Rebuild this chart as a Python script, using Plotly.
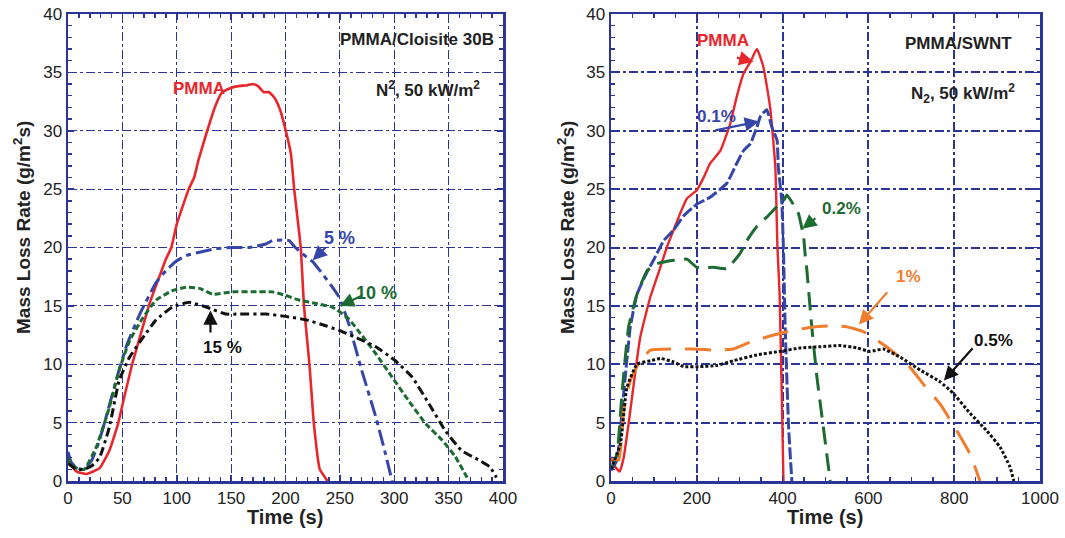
import plotly.graph_objects as go

# ---------------- Left panel: PMMA / Cloisite 30B ----------------
L_pmma_t = [0, 4, 8, 17, 29, 38, 46, 51, 59, 66, 75, 84, 90, 95, 100, 111, 116, 120, 128, 135, 141, 148, 155, 165, 170, 175, 180, 185, 190, 195, 200, 205, 208, 214, 217, 222, 226, 231.5, 235, 238.5]
L_pmma_y = [1.8, 1.2, 0.8, 0.6, 1.1, 2.6, 4.9, 6.9, 10, 12.3, 15.2, 17.5, 19, 20, 22, 25, 26, 27.5, 30, 32, 33.2, 33.6, 33.8, 33.9, 34, 33.8, 33.3, 33.3, 32.8, 31.8, 30.1, 28, 25, 20, 15, 10, 5, 1, 0.5, 0]

L_5_t = [0, 3, 8, 15, 22, 29, 41, 47, 53.5, 66, 81, 90, 99, 108.6, 121, 136, 151, 167, 182, 188, 203, 209, 223, 225, 249, 258, 270, 283, 292, 298]
L_5_y = [2.5, 1.6, 1.1, 1.0, 1.8, 3.5, 7.5, 9.5, 11.5, 14.3, 17, 18, 18.8, 19.3, 19.6, 19.9, 20, 20, 20.3, 20.6, 20.6, 20, 18.9, 18.8, 15.8, 13.5, 9.5, 5.5, 2.3, 0]

L_10_t = [0, 3, 8, 15, 26, 38, 47, 56.6, 69, 81, 96, 108.6, 121, 133, 151, 170, 188, 200, 212.5, 228, 243, 258, 270, 283, 298, 313, 329, 344, 356, 367]
L_10_y = [2.0, 1.5, 1.1, 1.0, 2.9, 6.3, 9.5, 12, 14, 15.5, 16.3, 16.6, 16.5, 16, 16.2, 16.2, 16.2, 15.9, 15.5, 15.2, 14.9, 13.9, 12.5, 10.9, 8.9, 6.9, 4.9, 3.5, 2.1, 0.3]

L_15_t = [0, 3, 8, 15, 22, 29, 38, 47, 56.6, 69, 81, 96, 111.6, 127, 145, 157, 182, 200, 219, 237, 252, 267, 283, 301, 316.5, 332, 347, 362, 377.7, 388, 394]
L_15_y = [1.5, 1.3, 1.0, 1.0, 1.3, 2.0, 4.6, 8.6, 10.6, 12.3, 13.8, 14.9, 15.3, 14.9, 14.3, 14.3, 14.3, 14.1, 13.8, 13.3, 12.8, 12.2, 11.5, 10.3, 8.9, 6.6, 4.3, 2.6, 1.8, 1.2, 0.3]

# ---------------- Right panel: PMMA / SWNT ----------------
R_pmma_t = [0, 10, 20, 29.5, 41, 53, 68, 92, 115, 130, 146, 161, 177, 200, 216, 231, 255, 278, 293, 309, 325, 340, 355, 371, 383, 388, 393, 398, 402]
R_pmma_y = [2, 1.2, 0.8, 2, 4.9, 8.3, 12.3, 15.8, 18.3, 20, 21.5, 22.9, 24.2, 24.9, 26, 27.2, 28.3, 30.6, 32.9, 34.9, 35.9, 37, 35.5, 32, 26.9, 20, 16, 7.5, 0]

R_01_t = [0, 14, 29.5, 45, 60.6, 84, 99, 123, 146, 169, 200, 231, 270, 293, 309, 325, 340, 348, 363, 375, 387, 390, 398, 402, 406, 414, 421.6]
R_01_y = [0.9, 1.8, 7.5, 13.2, 16, 17.9, 18.9, 20.6, 21.5, 22.7, 23.7, 24.3, 25.5, 27.2, 28.3, 28.9, 30.3, 31.2, 31.8, 30.3, 29.2, 26.9, 24, 19.8, 13.2, 4.6, 0]

R_02_t = [0, 14, 25.6, 41, 60.6, 84, 107, 146, 177, 200, 239, 270, 301, 317, 340, 363, 387, 402, 410, 425, 437, 449, 453, 456, 468, 480, 495, 503, 511]
R_02_y = [1, 2.3, 7.5, 13.2, 16, 18, 18.6, 18.9, 19, 18.3, 18.3, 18.2, 19.5, 20.6, 21.8, 22.6, 23.5, 24, 24.5, 23.7, 22.9, 20.9, 19.2, 18.3, 13.2, 8.9, 4.6, 2.3, 0]

R_1_t = [0, 18, 29.5, 45, 68, 92, 146, 192, 247, 285, 325, 379, 425, 472, 519, 550, 588, 642, 689, 728, 767, 806, 837, 860]
R_1_y = [2, 1.8, 6, 8.6, 10.3, 11.2, 11.3, 11.3, 11.2, 11.3, 11.9, 12.5, 12.9, 13.2, 13.3, 13.2, 12.8, 11.5, 10.1, 8.3, 6.6, 4.3, 2.3, 0]

R_05_t = [0, 22, 37, 60.6, 92, 115, 146, 169, 208, 247, 285, 340, 394, 441, 488, 534, 573, 604, 635, 674, 721, 767, 798, 837, 876, 907, 930, 939]
R_05_y = [1, 3.2, 8, 10, 10.3, 10.5, 10.2, 9.8, 9.8, 9.9, 10.3, 10.8, 11.1, 11.4, 11.5, 11.6, 11.4, 11.1, 11.3, 10.6, 9.5, 8.5, 7.5, 5.8, 4.3, 2.9, 1.2, 0]

RED = "#e8262b"
BLUE = "#3646a8"
GREEN = "#1e6b32"
BLACK = "#111111"
ORANGE = "#f07d2e"
FRAME = "#2b3596"
FONT = "Liberation Sans, Arial, sans-serif"

fig = go.Figure()

def add(x, y, color, dash, width, xa, ya):
    fig.add_trace(go.Scatter(x=x, y=y, mode="lines", xaxis=xa, yaxis=ya,
                             line=dict(color=color, dash=dash, width=width, shape="spline", smoothing=0.4),
                             showlegend=False, hoverinfo="skip"))

add(L_pmma_t, L_pmma_y, RED, "solid", 2.6, "x", "y")
add(L_5_t, L_5_y, BLUE, "16px,5px,5px,5px", 3, "x", "y")
add(L_10_t, L_10_y, GREEN, "6px,3px", 3, "x", "y")
add(L_15_t, L_15_y, BLACK, "9px,4px,3px,4px", 3, "x", "y")

add(R_pmma_t, R_pmma_y, RED, "solid", 2.4, "x2", "y2")
add(R_01_t, R_01_y, BLUE, "12px,3px", 3, "x2", "y2")
add(R_02_t, R_02_y, GREEN, "18px,9px", 3, "x2", "y2")
add(R_1_t, R_1_y, ORANGE, "26px,14px", 3, "x2", "y2")
add(R_05_t, R_05_y, BLACK, "3px,2px", 3, "x2", "y2")

# the page body margin is removed (post_script below), so the figure sits at (0, 0)
W, H = 1065, 538
def fx(p): return p / W
def fy(p): return 1 - p / H

axis_common = dict(showline=True, mirror="allticks", linecolor=FRAME, linewidth=2.5,
                   ticks="inside", ticklen=6, tickcolor=FRAME, tickwidth=1.5,
                   showgrid=True, griddash="dashdot", gridcolor=FRAME, zeroline=False,
                   automargin=False, ticklabeloverflow="allow",
                   tickfont=dict(family=FONT, size=17, color="#222222"))

fig.update_layout(
    width=W, height=H, margin=dict(l=0, r=0, t=0, b=0),
    paper_bgcolor="white", plot_bgcolor="white",
    xaxis=dict(domain=[fx(68), fx(503)], range=[0, 400], dtick=50, anchor="y",
               minor=dict(dtick=10, ticks="inside", ticklen=4, tickcolor=FRAME, showgrid=False),
               gridwidth=1, **axis_common),
    yaxis=dict(domain=[fy(481), fy(14)], range=[0, 40], dtick=5, anchor="x",
               minor=dict(dtick=1, ticks="inside", ticklen=4, tickcolor=FRAME, showgrid=False),
               gridwidth=1, **axis_common),
    xaxis2=dict(domain=[fx(611), fx(1040)], range=[0, 1000], dtick=200, anchor="y2",
                minor=dict(dtick=50, ticks="inside", ticklen=4, tickcolor=FRAME, showgrid=False),
                gridwidth=2, **axis_common),
    yaxis2=dict(domain=[fy(481), fy(14)], range=[0, 40], dtick=5, anchor="x2",
                minor=dict(dtick=1, ticks="inside", ticklen=4, tickcolor=FRAME, showgrid=False),
                gridwidth=2, **axis_common),
)

# axis titles as paper annotations
for cx in (285, 825):
    fig.add_annotation(x=fx(cx), y=fy(517), xref="paper", yref="paper", text="<b>Time (s)</b>",
                       xanchor="center", yanchor="middle",
                       showarrow=False, font=dict(family=FONT, size=20, color="#222"))
for cx in (22, 566):
    fig.add_annotation(x=fx(cx), y=fy(228), xref="paper", yref="paper",
                       text="<b>Mass Loss Rate (g/m<sup>2</sup>s)</b>", textangle=-90,
                       xanchor="center", yanchor="middle",
                       showarrow=False, font=dict(family=FONT, size=19, color="#222"))

def text(x, y, s, color, xa, ya, size=18, anchor="center"):
    fig.add_annotation(x=x, y=y, xref=xa, yref=ya, text="<b>" + s + "</b>", showarrow=False,
                       xanchor=anchor, yanchor="middle", font=dict(family=FONT, size=size, color=color))

def arrow(x0, y0, x1, y1, color, xa, ya):
    fig.add_annotation(x=x1, y=y1, ax=x0, ay=y0, xref=xa, yref=ya, axref=xa, ayref=ya,
                       text="", showarrow=True, arrowhead=2, arrowsize=1.3, arrowwidth=2.2, arrowcolor=color)

# Left annotations
text(394, 37.8, "PMMA/Cloisite 30B", "#222", "x", "y", 17, "right")
text(381, 33.6, "N<sup>2</sup>, 50 kW/m<sup>2</sup>", "#222", "x", "y", 17, "right")
text(120, 33.6, "PMMA", RED, "x", "y", 17)
text(250, 20.8, "5 %", BLUE, "x", "y", 18)
arrow(238, 20.1, 225, 18.9, BLUE, "x", "y")
text(284, 16.1, "10 %", GREEN, "x", "y", 18)
arrow(271, 15.9, 250, 15.0, GREEN, "x", "y")
text(142, 11.4, "15 %", BLACK, "x", "y", 17)
arrow(131, 12.6, 131, 14.6, BLACK, "x", "y")

# Right annotations
text(809, 37.5, "PMMA/SWNT", "#222", "x2", "y2", 17)
text(821, 33.2, "N<sub>2</sub>, 50 kW/m<sup>2</sup>", "#222", "x2", "y2", 17)
text(262, 37.7, "PMMA", RED, "x2", "y2", 17)
arrow(290, 36.3, 332, 35.9, RED, "x2", "y2")
text(246, 31.2, "0.1%", BLUE, "x2", "y2", 17)
arrow(240, 30.0, 345, 30.8, BLUE, "x2", "y2")
text(538, 23.3, "0.2%", GREEN, "x2", "y2", 17)
arrow(480, 22.6, 446, 21.6, GREEN, "x2", "y2")
text(693, 17.5, "1%", ORANGE, "x2", "y2", 17)
arrow(647, 16.3, 578, 13.4, ORANGE, "x2", "y2")
text(891, 12.0, "0.5%", BLACK, "x2", "y2", 17)
arrow(846, 11.5, 776, 8.6, BLACK, "x2", "y2")

fig.write_html("out.html", config={"displayModeBar": False, "staticPlot": True},
               post_script="document.body.style.margin='0';document.body.style.overflow='hidden';")
